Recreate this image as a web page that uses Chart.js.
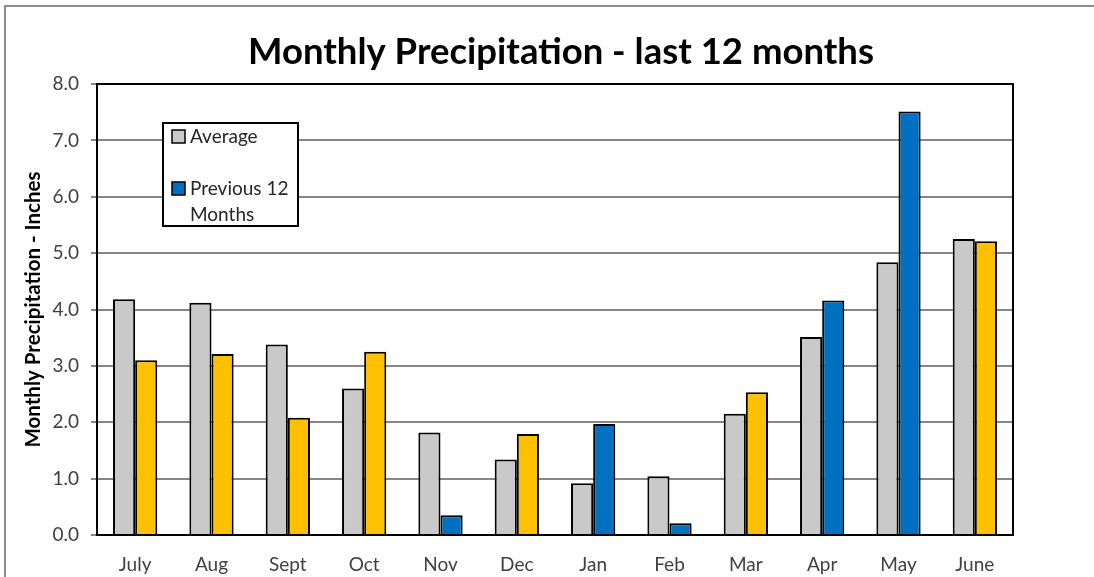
<!DOCTYPE html>
<html>
<head>
<meta charset="utf-8">
<title>Monthly Precipitation - last 12 months</title>
<script src="https://cdn.jsdelivr.net/npm/chart.js@4/dist/chart.umd.min.js"></script>
<style>
    html, body { margin: 0; padding: 0; background: #fff; }
    #wrap { position: relative; width: 1094px; height: 577px; }
</style>
</head>
<body>
<div id="wrap"><canvas id="chart" width="1094" height="577"></canvas></div>
<script>
// data (inches)
const months = ['July', 'Aug', 'Sept', 'Oct', 'Nov', 'Dec', 'Jan', 'Feb', 'Mar', 'Apr', 'May', 'June'];
const averageRain = [4.18, 4.12, 3.38, 2.60, 1.82, 1.34, 0.92, 1.04, 2.15, 3.51, 4.84, 5.25];
const previousRain = [3.10, 3.21, 2.08, 3.25, 0.35, 1.79, 1.97, 0.21, 2.53, 4.16, 7.51, 5.21];
// which bars of the previous 12 months are drawn blue
const previousIsBlue = [false, false, false, false, true, false, true, true, false, true, true, false];
const yTicks = [0, 1, 2, 3, 4, 5, 6, 7, 8];
const chartTitle = 'Monthly Precipitation - last 12 months';
const legendLabels = ['Average', ['Previous 12', 'Months']];

const GRAY = '#C9C9C9';
const BLUE = '#0070C0';
const GOLD = '#FFC000';
const FONT = 'Lato, "Open Sans", sans-serif';

// outer frame, title centred over the plot, plot border and the boxed legend
const framePlugin = {
    id: 'frame',
    beforeDraw(chart) {
        const ctx = chart.ctx;
        ctx.save();
        ctx.strokeStyle = '#8c8c8c';
        ctx.lineWidth = 2;
        ctx.beginPath();
        ctx.moveTo(5, chart.height);
        ctx.lineTo(5, 6);
        ctx.lineTo(chart.width, 6);
        ctx.stroke();
        ctx.restore();
    },
    afterDraw(chart) {
        const ctx = chart.ctx;
        const a = chart.chartArea;
        ctx.save();

        ctx.fillStyle = '#000';
        ctx.font = 'bold 36.5px ' + FONT;
        ctx.textAlign = 'center';
        ctx.textBaseline = 'alphabetic';
        ctx.fillText(chartTitle, (a.left + a.right) / 2 + 6, 64);
        ctx.textAlign = 'left';

        ctx.strokeStyle = '#000';
        ctx.lineWidth = 2;
        ctx.strokeRect(a.left, a.top, a.right - a.left, a.bottom - a.top);

        // legend box
        const lx = a.left + 66, ly = a.top + 39, lw = 135, lh = 103;
        ctx.fillStyle = '#fff';
        ctx.fillRect(lx, ly, lw, lh);
        ctx.strokeRect(lx, ly, lw, lh);

        ctx.font = '19px ' + FONT;
        ctx.textBaseline = 'middle';
        const items = [
            { color: GRAY, y: ly + 13, text: legendLabels[0] },
            { color: BLUE, y: ly + 65, text: legendLabels[1] }
        ];
        items.forEach(it => {
            ctx.fillStyle = it.color;
            ctx.fillRect(lx + 9, it.y - 6, 13, 13);
            ctx.lineWidth = 1.5;
            ctx.strokeStyle = '#000';
            ctx.strokeRect(lx + 9, it.y - 6, 13, 13);
            ctx.fillStyle = '#262626';
            const lines = Array.isArray(it.text) ? it.text : [it.text];
            lines.forEach((t, i) => ctx.fillText(t, lx + 27, it.y + 1 + i * 26));
        });
        ctx.restore();
    }
};

new Chart(document.getElementById('chart'), {
    type: 'bar',
    data: {
        labels: months,
        datasets: [
            {
                label: 'Average',
                data: averageRain,
                backgroundColor: GRAY,
                borderColor: '#000',
                borderWidth: 2,
                borderSkipped: 'bottom'
            },
            {
                label: 'Previous 12 Months',
                data: previousRain,
                backgroundColor: previousIsBlue.map(b => b ? BLUE : GOLD),
                borderColor: '#000',
                borderWidth: 2,
                borderSkipped: 'bottom'
            }
        ]
    },
    options: {
        responsive: false,
        devicePixelRatio: 1,
        animation: false,
        layout: { padding: { left: 0, right: 81, top: 84, bottom: 0 } },
        datasets: { bar: { barPercentage: 1, categoryPercentage: 0.58 } },
        plugins: {
            legend: { display: false },
            tooltip: { enabled: false },
            title: { display: false }
        },
        scales: {
            x: {
                grid: { display: false, drawTicks: false },
                border: { color: '#000', width: 2 },
                ticks: { color: '#404040', font: { family: FONT, size: 19 }, padding: 18 },
                afterFit(scale) { scale.height = 42; }
            },
            y: {
                min: 0,
                max: 8,
                afterBuildTicks(scale) { scale.ticks = yTicks.map(v => ({ value: v })); },
                grid: { color: '#868686', lineWidth: 2, tickLength: 6 },
                border: { color: '#000', width: 2 },
                ticks: {
                    color: '#404040',
                    font: { family: FONT, size: 19 },
                    padding: 12,
                    callback: v => v.toFixed(1)
                },
                title: {
                    display: true,
                    text: 'Monthly Precipitation - Inches',
                    color: '#000',
                    font: { family: FONT, size: 20.5, weight: 'bold' },
                    padding: { top: 21, bottom: 0 }
                },
                afterFit(scale) { scale.width = 97; }
            }
        }
    },
    plugins: [framePlugin]
});
</script>
</body>
</html>
